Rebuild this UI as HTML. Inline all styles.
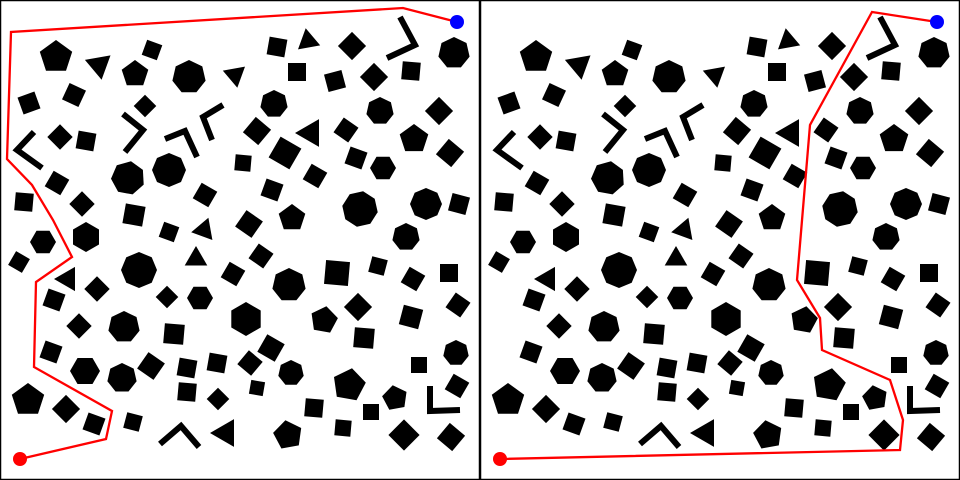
<!DOCTYPE html>
<html><head><meta charset="utf-8">
<style>
html,body{margin:0;padding:0;background:#fff;}
svg{display:block;}
</style></head>
<body>
<svg id="chart" width="960" height="480" xmlns="http://www.w3.org/2000/svg">
<rect x="0.5" y="0.5" width="479" height="479" fill="#fff" stroke="#000" stroke-width="1.5"/>
<rect x="480.5" y="0.5" width="479" height="479" fill="#fff" stroke="#000" stroke-width="1.5"/>
<g id="obsL"></g>
<g id="obsR"></g>
<g id="paths"></g>
</svg>
<script>
// obstacles: [sides, cx, cy, size, rotation]; squares size = half side, others = circumradius
const polys = [
[5,56,57,17,0],[3,99,65,15,170],[4,152,50,8,20],[5,135,74,14,0],[7,189,77,17,0],[3,235,75,13,170],
[4,29,103,9,-20],[4,74,95,9,25],[4,145,106,8,45],[4,60,137,9,45],[4,86,141,9,10],[7,128,178,17,10],
[8,169,170,17,0],[4,57,183,9,30],[4,24,202,9,5],[4,82,204,9,45],[4,134,215,10,10],[4,205,195,9,30],
[4,169,232,8,20],[3,204,230,13,20],[6,86,237,15,0],[6,43,242,13,30],[4,243,163,8,5],
[4,277,47,9,10],[3,308,41,13,-10],[4,352,46,10,45],[7,454,53,16,0],[4,297,72,9,0],[4,335,81,9,-15],
[4,374,77,10,45],[4,411,71,9,5],[7,274,104,14,0],[7,380,111,14,0],[4,439,111,10,45],[4,257,131,10,40],
[3,311,133,16,-90],[4,285,153,12,30],[4,346,130,9,35],[5,414,139,15,0],[4,450,153,10,40],
[4,356,158,9,20],[4,315,176,9,30],[6,383,168,13,30],[4,272,190,9,20],[5,292,218,14,0],
[4,249,224,10,35],[8,360,209,18,10],[8,426,204,16,0],[4,459,204,9,15],[7,406,237,14,0],
[4,19,262,8,30],[8,139,270,18,0],[3,196,259,13,0],[4,233,274,9,30],[3,68,279,14,-90],[4,97,289,9,45],
[4,54,300,9,20],[4,167,297,8,45],[6,200,298,13,30],[4,79,326,9,45],[7,124,327,16,0],[4,174,334,10,5],
[4,51,352,9,20],[6,85,371,15,30],[7,122,378,15,0],[4,151,366,10,35],[4,187,368,9,10],[4,217,363,9,10],
[4,187,392,9,5],[4,218,399,8,45],[5,28,400,17,0],[4,66,409,10,45],[4,94,424,9,20],[4,133,422,8,15],
[3,226,433,16,-90],
[4,261,256,9,35],[7,289,285,17,0],[4,337,273,12,5],[4,378,266,8,15],[4,413,279,9,30],[4,449,273,9,0],
[4,358,307,10,45],[5,324,320,14,10],[4,411,317,10,15],[4,458,305,9,35],[6,246,319,17,0],[4,364,338,10,5],
[4,271,348,10,30],[4,250,363,9,40],[7,291,373,13,0],[4,257,388,7,10],[5,349,385,17,10],[5,395,398,13,-10],
[4,419,365,8,0],[7,456,353,13,0],[4,457,386,9,30],[4,314,408,9,5],[4,371,412,8,0],[5,288,435,15,-10],
[4,343,428,8,5],[4,404,435,11,45],[4,451,437,10,40]
];
// bent bars (polylines)
const bars = [
[[123,114],[143,130],[125,152]],
[[165,139],[185,131],[197,157]],
[[223,105],[203,117],[212,140]],
[[34,132],[17,150],[42,168]],
[[400,17],[415,45],[387,58]],
[[160,444],[181,426],[199,447]],
[[430,386],[430,411],[460,410]]
];
const pathLeftX = [20,106,112,34,36,72,53,32,7,11,403,457];
const pathLeftY = [459,439,411,367,282,257,220,185,159,32,8,22];
const pathRightX = [500,900,903,890,822,820,797,810,872,937];
const pathRightY = [459,450,420,380,350,318,280,125,12,22];

const NS='http://www.w3.org/2000/svg';
function polyPts(n,cx,cy,s,rot){
  let r = n===4 ? s*Math.SQRT2 : s;
  let base = n===4 ? rot+45 : rot;
  let pts=[];
  for(let i=0;i<n;i++){
    let a=(-90+base+i*360/n)*Math.PI/180;
    pts.push((cx+r*Math.cos(a)).toFixed(1)+','+(cy+r*Math.sin(a)).toFixed(1));
  }
  return pts.join(' ');
}
function drawObs(g,dx){
  polys.forEach(p=>{
    const el=document.createElementNS(NS,'polygon');
    el.setAttribute('points',polyPts(p[0],p[1]+dx,p[2],p[3],p[4]));
    el.setAttribute('fill','#000');
    
    
    g.appendChild(el);
  });
  bars.forEach(b=>{
    const el=document.createElementNS(NS,'polyline');
    el.setAttribute('points',b.map(q=>(q[0]+dx)+','+q[1]).join(' '));
    el.setAttribute('fill','none');el.setAttribute('stroke','#000');el.setAttribute('stroke-width','6');
    
    
    g.appendChild(el);
  });
}
drawObs(document.getElementById('obsL'),0);
drawObs(document.getElementById('obsR'),480);
function drawPath(xs,ys,name){
  const g=document.getElementById('paths');
  const el=document.createElementNS(NS,'polyline');
  el.setAttribute('points',xs.map((x,i)=>x+','+ys[i]).join(' '));
  el.setAttribute('fill','none');el.setAttribute('stroke','#f00');el.setAttribute('stroke-width','2.3');
  el.setAttribute('stroke-linejoin','miter');
  
  
  g.appendChild(el);
  const s=document.createElementNS(NS,'circle');
  s.setAttribute('cx',xs[0]);s.setAttribute('cy',ys[0]);s.setAttribute('r','7');s.setAttribute('fill','#f00');
  
  
  g.appendChild(s);
  const e=document.createElementNS(NS,'circle');
  e.setAttribute('cx',xs[xs.length-1]);e.setAttribute('cy',ys[ys.length-1]);e.setAttribute('r','7');e.setAttribute('fill','#00f');
  
  
  g.appendChild(e);
}
drawPath(pathLeftX,pathLeftY,'path-left');
drawPath(pathRightX,pathRightY,'path-right');
</script>
</body></html>
